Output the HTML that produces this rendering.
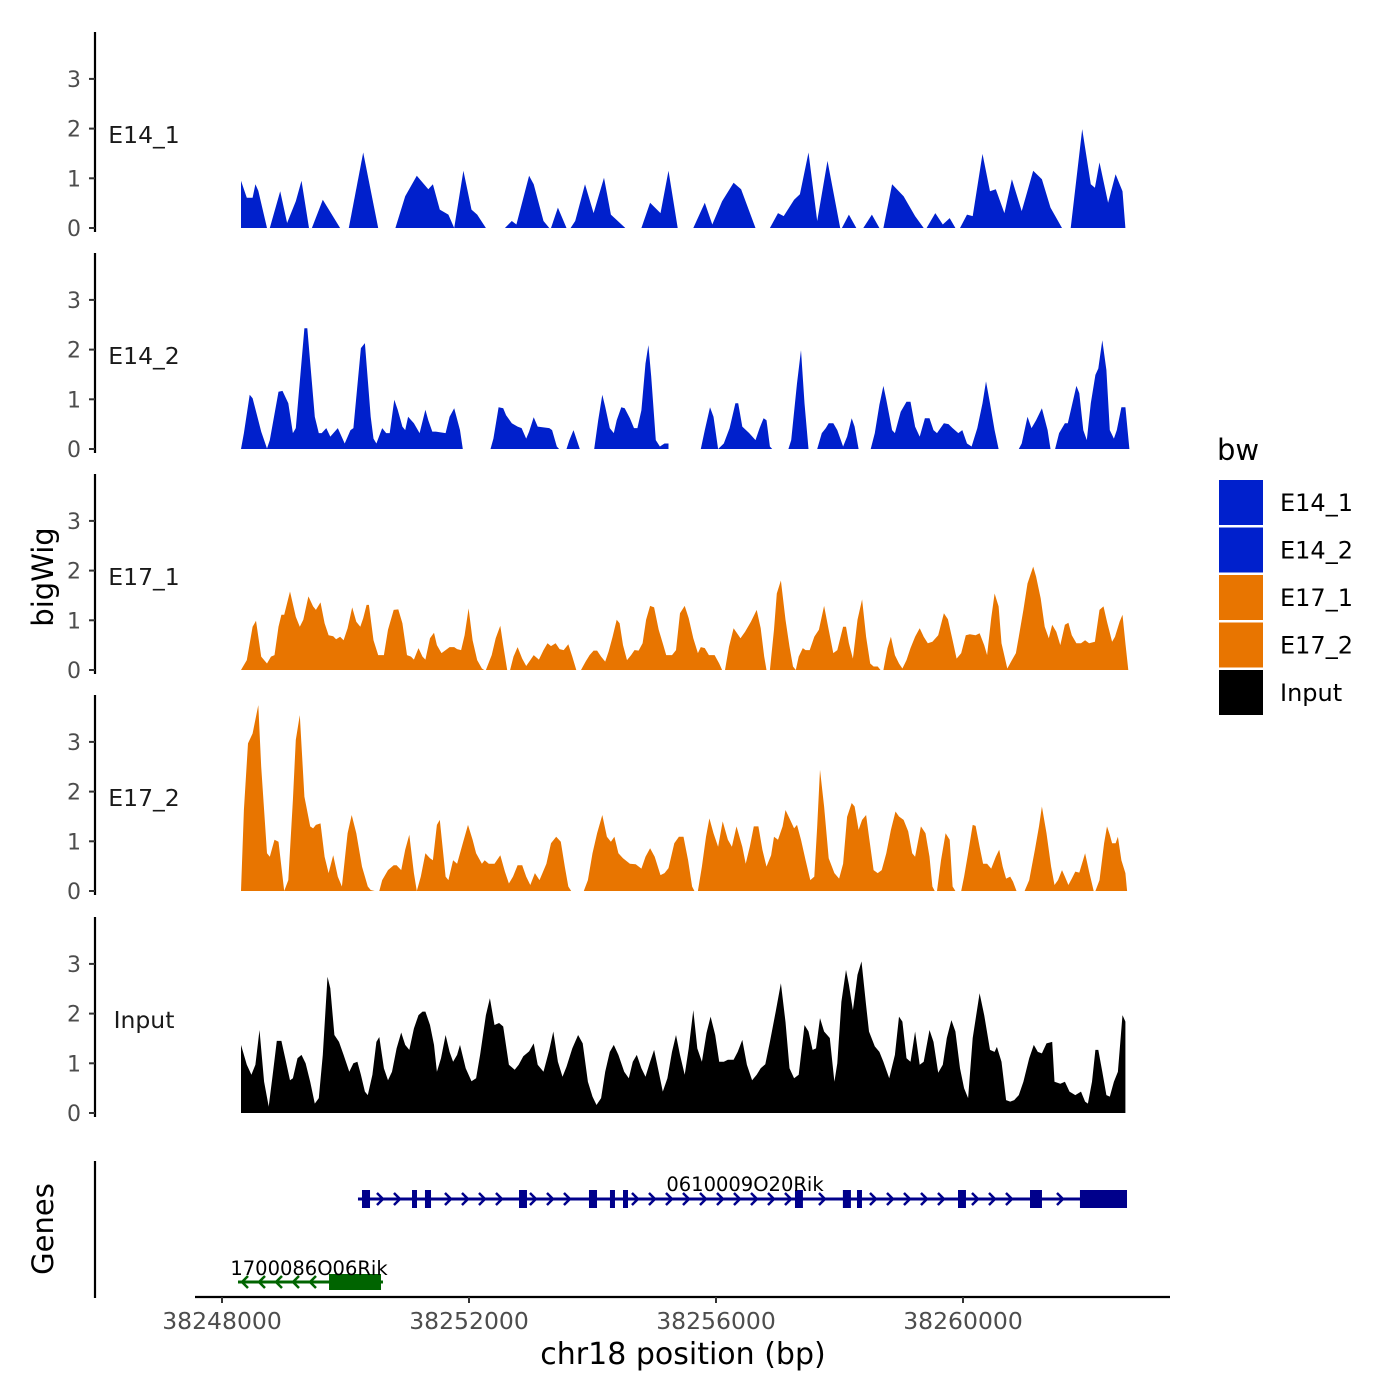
<!DOCTYPE html>
<html><head><meta charset="utf-8">
<style>
html,body{margin:0;padding:0;background:#fff;}
svg{display:block;font-family:"DejaVu Sans","Liberation Sans",sans-serif;}
</style></head>
<body>
<svg id="chart" width="1400" height="1400" viewBox="0 0 1400 1400" xmlns="http://www.w3.org/2000/svg"></svg>
<script>
// ---- data ----
const regionStart = 38248215; // bp at bin 0
const binSize = 93.3;         // bp per bin
const trackNames = ["E14_1","E14_2","E17_1","E17_2","Input"];
const yTicks = [0,1,2,3];
const xTicks = [38248000,38252000,38256000,38260000];
const xTickLabels = ["38248000","38252000","38256000","38260000"];

const e14_1_bins=[1,1,2,3,3.5,4,5.5,null,6,7.8,9,10.5,11.5,12.8,null,13.3,15.2,18.2,null,19.7,22.2,24.8,null,27.8,29.5,31.5,33.5,34.3,35.5,37,38,39.6,41,42,43.5,null,46.8,48,48.8,51,51.8,53.5,54.5,null,54.8,56,57.5,null,58.2,59,60.7,62.2,64,65.2,67.7,null,70.5,72,73.8,75.2,76.8,null,79.5,81.5,82.8,84.5,86.5,87.8,90.3,null,92.8,94.2,95.2,97,98,99.5,101,102.8,105,null,105.3,106.5,107.8,null,109,110.5,111.8,null,112.5,114,116,118,119.5,null,120,121.5,122.8,124,125,null,125.8,127,128,129.7,131,132,133.5,134.8,136.5,138.5,140,141.5,143.5,null,145,147,148.5,149.2,150,151.5,152.8,154,154.5];
const e14_1_vals=[0,0.95,0.61,0.61,0.88,0.75,0,null,0,0.74,0.1,0.54,0.95,0,null,0,0.57,0,null,0,1.52,0,null,0,0.64,1.05,0.78,0.88,0.37,0.27,0,1.15,0.37,0.27,0,null,0,0.14,0.07,1.05,0.88,0.14,0,null,0,0.41,0,null,0,0.14,0.88,0.3,1.01,0.27,0,null,0,0.51,0.3,1.15,0,null,0,0.51,0.07,0.54,0.91,0.78,0,null,0,0.3,0.24,0.57,0.68,1.52,0.14,1.35,0,null,0,0.27,0,null,0,0.27,0,null,0,0.88,0.64,0.24,0,null,0,0.3,0.07,0.2,0,null,0,0.27,0.24,1.49,0.74,0.78,0.3,0.98,0.34,1.15,0.98,0.41,0,null,0,1.99,0.88,0.81,1.32,0.51,1.08,0.74,0];

const e14_2_bins=[1,1.5,2.5,3,4,4.5,5.5,6,7.5,8.2,9.2,10,10.5,12,12.5,13.8,14.5,15,15.8,16.5,17.8,19,20,20.5,21.8,22.5,23.5,24,24.5,25.5,26.2,26.8,27.6,28.2,29,29.5,30,31,32,33,33.5,34.2,34.8,36.5,37.2,38,39,39.5,null,44.3,44.8,45.7,46.5,47,48,49,49.7,50.5,51,51.8,52.5,54.5,55,55.8,56.2,null,57.5,58,58.7,59.8,null,62.3,63,63.7,64.2,65,65.7,66.2,67,67.6,68.5,69.2,69.8,70.5,71.2,71.7,72.2,73,73.7,74.5,75.2,75.2,null,80.8,81.5,82.4,83,83.8,84.8,85.8,86.8,87.3,88,89.2,90.3,91,91.7,92.2,92.8,93.2,null,96,96.5,97.5,98.2,98.8,99.5,null,101,101.8,102.5,103,103.8,104.5,105.5,106.2,107,107.5,108.2,null,110.3,111,111.8,112.5,113,114,114.5,115.5,116.5,117.2,118,118.8,119.7,120.5,121.2,121.8,123,123.8,124.5,125.5,126.2,127,127.8,128.8,129.7,130.3,131,131.8,132.5,null,136,136.5,137.5,138.2,139,140,141,141.5,null,142.3,143,144,144.5,145.3,146,146.5,147.2,147.8,148.5,149.3,149.8,150.5,151.2,151.8,152.5,153,153.8,154.5,155.2];
const e14_2_vals=[0,0.32,1.09,1.02,0.58,0.35,0.01,0.18,1.15,1.17,0.92,0.32,0.42,2.43,2.43,0.65,0.32,0.32,0.42,0.25,0.42,0.11,0.38,0.42,2.03,2.13,0.65,0.21,0.11,0.42,0.32,0.32,0.99,0.79,0.45,0.38,0.65,0.52,0.32,0.79,0.58,0.35,0.35,0.32,0.65,0.82,0.38,0,null,0,0.21,0.84,0.82,0.68,0.52,0.45,0.42,0.21,0.35,0.64,0.45,0.42,0.38,0.05,0,null,0,0.18,0.38,0,null,0,0.58,1.09,0.85,0.42,0.32,0.58,0.84,0.82,0.62,0.42,0.42,0.78,1.72,2.09,1.46,0.18,0.05,0.11,0.11,0,null,0,0.38,0.84,0.65,0,0.11,0.42,0.92,0.92,0.45,0.32,0.18,0.42,0.62,0.58,0.05,0,null,0,0.18,1.32,1.99,0.92,0,null,0,0.32,0.42,0.52,0.52,0.38,0.05,0.25,0.62,0.45,0,null,0,0.32,0.89,1.27,0.99,0.38,0.32,0.75,0.95,0.95,0.45,0.25,0.62,0.62,0.38,0.32,0.52,0.5,0.42,0.32,0.38,0.11,0.05,0.42,0.92,1.36,0.92,0.38,0,null,0,0.11,0.65,0.42,0.58,0.82,0.38,0,null,0,0.32,0.52,0.52,0.92,1.27,1.12,0.38,0.18,0.92,1.49,1.62,2.19,1.59,0.38,0.21,0.38,0.84,0.84,0];

const e17_1_bins=[1,2,3,3.6,4.5,5.5,6.2,6.8,7.5,8,8.5,9.5,10.5,11.2,11.8,12.7,13.5,14,14.8,15.5,16.2,17,17.5,18.2,18.8,19.5,20.3,21,21.7,22.2,22.8,23.2,24,24.8,25.8,26.5,27.5,28.3,29,29.8,30.5,31,31.8,32.5,33,33.8,34.5,35,35.8,36.5,37.2,38,38.5,39.2,39.8,40.5,41.2,42,42.8,43.2,null,43.5,44.5,45.2,46,46.5,47.2,null,47.7,48.3,49,49.8,50.5,51.2,51.8,52.7,53.5,54.2,54.8,55.6,56.3,57,57.8,58.5,59.2,null,60,60.8,61.5,62.2,62.8,63.5,64.2,64.8,65.5,66.2,66.7,67.3,68,68.7,69.3,70,70.7,71.3,72,72.7,73.5,74.3,74.8,75.8,76.5,77.2,78,78.7,79.5,80.3,80.8,81.5,82.2,83.2,84,84.5,null,85,85.7,86.5,87.7,88.5,89.5,90.5,91.2,91.8,92.2,null,92.8,93.5,94,94.7,95.5,96.2,96.8,97.3,97.8,98.5,99,99.7,100.5,101.3,102.2,103,103.8,104.5,105.5,106,106.5,107.2,108,108.8,109.5,110.2,110.8,111.5,112,null,112.5,113.2,113.8,114.5,115.2,115.8,116.5,117.2,118,118.8,119.5,120.2,121,122,123,123.7,124.5,125.2,126,126.8,127.5,128.5,129.2,130,130.5,131.2,131.8,132.5,133,134,134.8,135.5,136,136.8,137.5,138.5,139,139.8,140.5,141.2,141.8,142.5,143.2,144,144.6,145.2,146,146.8,147.5,148.2,149.2,150,150.7,151.3,152.2,152.7,153.5,154,154.5,155];
const e17_1_vals=[0,0.2,0.87,0.99,0.27,0.13,0.27,0.3,0.87,1.11,1.11,1.58,1.07,0.87,1.01,1.48,1.28,1.21,1.36,0.94,0.7,0.68,0.62,0.67,0.6,0.84,1.26,0.97,0.87,1.04,1.31,1.31,0.6,0.3,0.3,0.81,1.21,1.22,0.94,0.3,0.27,0.21,0.44,0.27,0.21,0.64,0.75,0.5,0.34,0.4,0.46,0.46,0.42,0.4,0.7,1.24,0.6,0.2,0.03,0,null,0,0.3,0.64,0.89,0.5,0,null,0,0.27,0.46,0.23,0.08,0.2,0.3,0.21,0.4,0.54,0.48,0.54,0.42,0.4,0.52,0.27,0,null,0,0.17,0.3,0.39,0.39,0.27,0.17,0.37,0.67,1.01,0.94,0.5,0.2,0.3,0.4,0.39,0.54,1.01,1.29,1.26,0.81,0.5,0.3,0.3,0.4,1.14,1.29,1.04,0.64,0.34,0.46,0.44,0.3,0.3,0.13,0,null,0,0.47,0.84,0.64,0.77,0.97,1.21,0.84,0.27,0,null,0,0.81,1.54,1.8,1.01,0.47,0.07,0,0.27,0.44,0.4,0.4,0.67,0.81,1.29,0.81,0.34,0.4,0.87,0.87,0.54,0.23,1.01,1.42,0.67,0.13,0.07,0.07,0,null,0,0.44,0.67,0.3,0.13,0.03,0.2,0.44,0.67,0.84,0.67,0.54,0.57,0.7,1.14,1.02,0.6,0.23,0.34,0.7,0.72,0.7,0.74,0.5,0.3,1.04,1.54,1.28,0.54,0.03,0.2,0.34,0.67,1.21,1.74,2.08,1.88,1.44,0.87,0.64,0.91,0.77,0.5,0.91,0.95,0.7,0.54,0.54,0.6,0.54,0.57,1.21,1.28,0.97,0.57,0.67,0.97,1.11,0.54,0];

const e17_2_bins=[1,1.5,2.2,3,4,4.5,5.5,6,6.8,7.5,8.5,9.2,10,10.5,11.2,12,13,13.5,14,14.8,15.5,16.2,17,17.8,18.5,19,19.5,20.2,21,22,23,23.5,24.2,null,25,25.5,26.5,27.5,28,28.8,29.5,30.2,31,31.5,32.2,33,33.8,34.3,35,35.5,36.5,37,37.8,38.5,39.5,40.4,41.2,41.8,42.8,43.3,44,45,46,46.8,47.5,48.2,49,49.8,50.5,51.2,52,52.8,54,54.8,55.7,56.5,57.2,57.8,58.3,null,60.5,61.2,62,62.8,63.7,64.5,65.2,65.8,66.5,67.3,68.5,69.5,70.5,71.2,72,72.8,73.8,74.5,75.2,76.2,77,77.8,78.6,79.3,79.7,null,80.3,81,81.7,82.3,83,83.8,84.6,85.5,86.2,87,88,88.6,89.3,90,90.8,91.5,92.2,93,93.5,94.2,95,95.5,96.2,97,97.5,98.2,99,99.8,100.5,101,101.5,102.2,103,104,104.8,105.5,106.2,107,107.5,108.2,108.8,109.5,110,110.8,111.5,112.2,113,113.8,114.6,115.2,116,116.8,117.5,118,119,119.8,120.5,121,121.4,null,121.8,122.5,123.3,124,124.5,125,null,126,126.5,127.2,128,128.5,129.2,129.8,130.5,131.2,132,132.6,133.2,133.8,134.5,135,135.6,null,137,137.8,138.8,139.5,140,140.8,141.6,142.2,142.8,143.5,144,144.6,145.2,145.8,146.5,147.5,148.2,149,null,149.3,150,150.8,151.3,151.8,152.2,152.8,153.2,153.8,154.5,154.8];
const e17_2_vals=[0,1.63,2.97,3.17,3.74,2.5,0.76,0.69,1.03,0.99,0,0.22,1.83,3.04,3.54,1.9,1.3,1.26,1.33,1.36,0.69,0.36,0.72,0.29,0.09,0.62,1.16,1.53,1.16,0.49,0.09,0.02,0,null,0,0.22,0.42,0.52,0.52,0.42,0.83,1.13,0.36,0,0.29,0.76,0.66,0.62,1.33,1.43,0.29,0.22,0.62,0.55,0.96,1.33,1.03,0.76,0.55,0.62,0.55,0.55,0.72,0.39,0.15,0.29,0.52,0.52,0.29,0.12,0.36,0.22,0.55,0.96,1.09,0.99,0.49,0.09,0,null,0,0.22,0.76,1.16,1.53,1.09,0.99,1.09,0.76,0.66,0.55,0.54,0.45,0.69,0.86,0.69,0.32,0.36,0.46,0.96,1.09,1.09,0.62,0.09,0,null,0,0.49,1.09,1.46,1.16,0.89,1.4,1.03,0.89,1.3,0.89,0.55,0.89,1.3,1.3,0.83,0.49,0.72,1.09,1.03,1.3,1.63,1.46,1.26,1.33,1.03,0.62,0.22,0.29,1.3,2.44,1.7,0.66,0.36,0.25,0.55,1.49,1.77,1.7,1.23,1.43,1.53,1.09,0.42,0.36,0.42,0.76,1.23,1.6,1.5,1.43,1.2,0.76,0.69,1.3,1.16,0.69,0.09,0,null,0,0.62,1.16,1.03,0.09,0,null,0,0.29,0.76,1.33,1.31,0.89,0.55,0.55,0.45,0.69,0.83,0.49,0.25,0.29,0.19,0,null,0,0.22,0.83,1.3,1.7,1.16,0.49,0.12,0.22,0.42,0.29,0.12,0.25,0.39,0.37,0.76,0.39,0,null,0,0.22,0.96,1.3,1.13,0.96,0.96,1.09,0.62,0.36,0];

const input_bins=[1,1,2,2.8,3.5,4.2,5,5.8,6.5,7.2,8,8.8,9.5,10,10.8,11.5,12.2,13,13.8,14.5,15.2,16,16.5,17.2,18,18.8,19.8,20.5,21.2,21.8,22.5,23,23.8,24.5,25,25.8,26.5,27.2,28,28.8,29.5,30.2,31,31.8,32.5,33,33.8,34.5,35,35.7,36.5,37.2,37.8,38.5,39,40,41,41.8,42.5,43.5,44.2,45,45.8,46.5,47.5,48.5,49.2,50,51,51.8,52.5,53.5,54.5,55.2,56,56.8,57.5,58.5,59.5,60.3,61.2,62,62.7,63.5,64.2,65,65.7,66.5,67.5,68.3,69,69.7,70.5,71.2,72,72.7,73.5,74.2,75,75.8,76.5,77.2,78,78.7,79.5,80.2,81,81.8,82.5,83.3,84,84.8,85.5,86.5,87.2,88,88.8,89.7,90.5,91.2,92,92.8,93.8,94.7,95.5,96.2,97,97.8,98.8,99.5,100.2,100.8,101.5,102.2,103.2,104,104.5,105.2,106,106.5,107.2,108,108.7,109.5,110,111,111.8,112.5,113.5,114.5,115.2,115.8,116.5,117.2,118,118.8,119.5,120.5,121.2,122,122.8,123.5,124.3,125,125.8,126.5,127.2,128,129.2,130,131,131.8,132.2,133,133.8,134.5,135.2,136,136.8,137.8,138.6,139.3,140,140.8,141.8,142.2,143.2,144,144.8,145.8,146.8,147.5,148,148.7,149.3,149.8,150.5,151.2,151.8,152.5,153.2,154,154.5,154.5];
const input_vals=[0,1.37,0.97,0.77,0.97,1.67,0.63,0.13,0.77,1.45,1.45,1.03,0.66,0.7,1.1,1.17,1.0,0.63,0.19,0.3,1.17,2.74,2.51,1.57,1.43,1.17,0.83,1.0,1.03,0.77,0.43,0.36,0.77,1.43,1.53,0.9,0.66,0.83,1.3,1.62,1.37,1.27,1.7,1.97,2.04,2.04,1.77,1.37,0.83,1.1,1.57,1.23,1.03,1.17,1.37,0.9,0.64,0.7,1.17,1.97,2.31,1.77,1.81,1.74,0.97,0.87,0.97,1.14,1.24,1.4,0.97,0.83,1.27,1.64,1.03,0.73,0.93,1.3,1.57,1.4,0.63,0.33,0.16,0.3,0.83,1.23,1.37,1.17,0.83,0.7,1.03,1.17,0.9,0.73,1.03,1.27,0.83,0.43,0.7,1.23,1.57,1.17,0.77,1.3,2.07,1.3,1.03,1.61,1.94,1.57,1.03,1.03,1.07,1.07,1.23,1.47,0.97,0.66,0.77,0.9,0.98,1.43,2.04,2.61,1.83,0.9,0.7,0.77,1.77,1.64,1.27,1.3,1.91,1.64,1.51,0.63,1.0,2.24,2.88,2.58,2.07,2.78,3.05,2.17,1.64,1.34,1.23,1.03,0.7,1.17,1.94,1.84,1.1,1.03,1.64,0.97,1.03,1.67,1.43,0.81,0.97,1.51,1.87,1.64,0.9,0.5,0.3,1.51,2.41,1.97,1.27,1.23,1.33,1.03,0.26,0.23,0.26,0.36,0.63,1.1,1.37,1.23,1.2,1.4,1.43,0.63,0.59,0.63,0.43,0.36,0.43,0.23,0.19,0.63,1.27,1.27,0.83,0.36,0.33,0.63,0.83,1.97,1.84,0];

// genes (bp)
const gene1Name="0610009O20Rik", gene1Start=38250202, gene1End=38262656;
const gene1ExonStarts=[38250267,38251077,38251287,38252810,38253943,38254283,38254494,38257279,38258055,38258283,38259919,38261085,38261894];
const gene1ExonEnds  =[38250397,38251158,38251385,38252939,38254073,38254364,38254575,38257408,38258185,38258364,38260048,38261279,38262656];
const gene2Name="1700086O06Rik", gene2Start=38248259, gene2End=38250607;
const gene2ExonStarts=[38249733];
const gene2ExonEnds=[38250575];

// ---- drawing ----
const NS="http://www.w3.org/2000/svg";
const svg=document.getElementById('chart');
function el(tag,attrs,parent){const e=document.createElementNS(NS,tag);for(const k in attrs)e.setAttribute(k,attrs[k]);(parent||svg).appendChild(e);return e;}
const xScale=bp=>222+(bp-38248000)*247/4000;
const binToBp=b=>regionStart+b*binSize;
const panelZero=[228,449,670,891,1113];
const unitPx=49.7;
const colors=["#0020CC","#0020CC","#E87500","#E87500","#000000"];
const allBins=[e14_1_bins,e14_2_bins,e17_1_bins,e17_2_bins,input_bins];
const allVals=[e14_1_vals,e14_2_vals,e17_1_vals,e17_2_vals,input_vals];

trackNames.forEach((name,i)=>{
  const z=panelZero[i];
  const g=el('g',{});
  
  
  const ax=el('line',{x1:95,x2:95,y1:z-196,y2:z+4,stroke:'#000','stroke-width':2.2},g);
  
  
  yTicks.forEach(t=>{
    const y=z-t*unitPx;
    const tk=el('line',{x1:89,x2:95,y1:y,y2:y,stroke:'#333','stroke-width':2},g);
    
    
    const tl=el('text',{x:81,y:y+8,'text-anchor':'end','font-size':22,fill:'#4d4d4d'},g);
    tl.textContent=t;
    
    
  });
  const lab=el('text',{x:144,y:z-85,'text-anchor':'middle','font-size':23.5,fill:'#1a1a1a'},g);
  lab.textContent=name;
  
  
  const bins=allBins[i], vals=allVals[i];
  let seg=[];
  const flush=()=>{
    if(seg.length>1){
      let d='M'+seg.map(p=>p[0].toFixed(1)+','+p[1].toFixed(1)).join('L');
      d+='L'+seg[seg.length-1][0].toFixed(1)+','+z+'L'+seg[0][0].toFixed(1)+','+z+'Z';
      const p=el('path',{d:d,fill:colors[i]},g);
      
      
    }
    seg=[];
  };
  for(let k=0;k<bins.length;k++){
    if(bins[k]===null||vals[k]===null){flush();continue;}
    seg.push([xScale(binToBp(bins[k])), z-vals[k]*unitPx]);
  }
  flush();
});

const yt=el('text',{x:0,y:0,'font-size':29,'text-anchor':'middle',transform:'translate(53,577) rotate(-90)',fill:'#000'});
yt.textContent='bigWig';



const gAx=el('line',{x1:95,x2:95,y1:1161,y2:1298,stroke:'#000','stroke-width':2.2});


const gt=el('text',{x:0,y:0,'font-size':29,'text-anchor':'middle',transform:'translate(53,1229) rotate(-90)',fill:'#000'});
gt.textContent='Genes';



function drawGene(name,start,end,exS,exE,y,color,dir,labelX,labelY,exH){
  const g=el('g',{});
  
  
  const x0=xScale(start),x1=xScale(end);
  el('line',{x1:x0,x2:x1,y1:y,y2:y,stroke:color,'stroke-width':3},g);
  const exPx=exS.map((s,k)=>[xScale(s),xScale(exE[k])]);
  for(let x=x0+6;x<x1-4;x+=17){
    if(exPx.some(e=>x>e[0]-5&&x<e[1]+5))continue;
    const d=dir>0?`M${x-4},${y-6}L${x+2},${y}L${x-4},${y+6}`:`M${x+4},${y-6}L${x-2},${y}L${x+4},${y+6}`;
    el('path',{d:d,stroke:color,'stroke-width':2.5,fill:'none'},g);
  }
  exPx.forEach(e=>{
    const r=el('rect',{x:e[0],y:y-exH/2,width:Math.max(e[1]-e[0],3),height:exH,fill:color},g);
    
    
  });
  const t=el('text',{x:labelX,y:labelY,'text-anchor':'middle','font-size':19.5,fill:'#000'},g);
  t.textContent=name;
  
  
}
drawGene(gene1Name,gene1Start,gene1End,gene1ExonStarts,gene1ExonEnds,1199,'#00008B',1,745,1191,18);
drawGene(gene2Name,gene2Start,gene2End,gene2ExonStarts,gene2ExonEnds,1282,'#006400',-1,309,1275,16);

const xa=el('line',{x1:195,x2:1170,y1:1297,y2:1297,stroke:'#000','stroke-width':2.2});


xTicks.forEach((t,k)=>{
  const x=xScale(t);
  const tk=el('line',{x1:x,x2:x,y1:1297,y2:1303,stroke:'#333','stroke-width':2});
  
  
  const tl=el('text',{x:x,y:1329,'text-anchor':'middle','font-size':23.5,fill:'#4d4d4d'});
  tl.textContent=xTickLabels[k];
  
  
});
const xt=el('text',{x:683,y:1364,'text-anchor':'middle','font-size':30,fill:'#000'});
xt.textContent='chr18 position (bp)';



const lg=el('g',{});


const lt=el('text',{x:1217,y:460,'font-size':29,fill:'#000'},lg);
lt.textContent='bw';


trackNames.forEach((n,k)=>{
  const y=480+k*47.5;
  const r=el('rect',{x:1219,y:y,width:44,height:45,fill:colors[k]},lg);
  
  
  const t=el('text',{x:1280,y:y+31,'font-size':24,fill:'#000'},lg);
  t.textContent=n;
  
  
});
</script>
</body></html>
